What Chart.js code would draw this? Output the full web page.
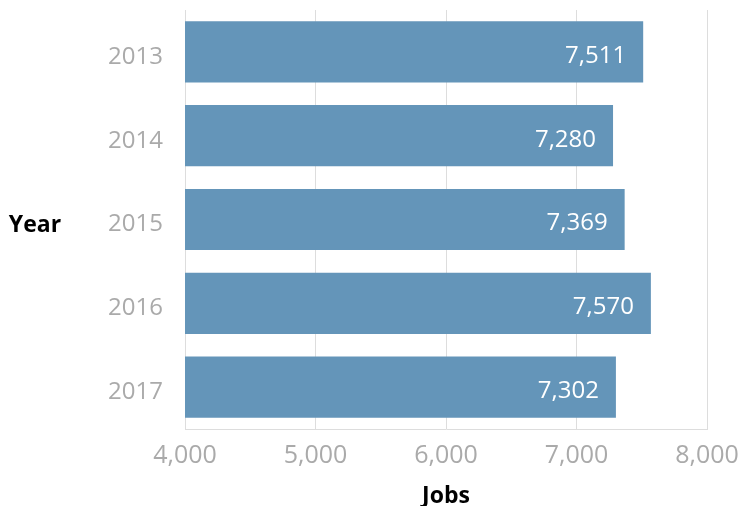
<!DOCTYPE html>
<html>
<head>
<meta charset="utf-8">
<script src="https://cdn.jsdelivr.net/npm/chart.js@4/dist/chart.umd.min.js"></script>
<style>
  html, body { margin: 0; padding: 0; background: #fff; }
  #wrap { width: 745px; height: 506px; }
</style>
</head>
<body>
<div id="wrap"><canvas id="jobsChart"></canvas></div>
<script>
// data
var years = ['2013', '2014', '2015', '2016', '2017'];
var jobs = [7511, 7280, 7369, 7570, 7302];
var xTicks = [4000, 5000, 6000, 7000, 8000];

function number_format(n) {
    return String(Math.round(n)).replace(/\B(?=(\d{3})+(?!\d))/g, ',');
}

// value labels inside the end of each bar + horizontal "Year" title
var barLabels = {
    id: 'barLabels',
    afterDatasetsDraw: function(chart) {
        var ctx = chart.ctx;
        var meta = chart.getDatasetMeta(0);
        ctx.save();
        ctx.font = '24px "Open Sans"';
        ctx.fillStyle = '#ffffff';
        ctx.textAlign = 'right';
        ctx.textBaseline = 'middle';
        meta.data.forEach(function(bar, i) {
            ctx.fillText(number_format(jobs[i]), bar.x - 17, bar.y + 4);
        });
        ctx.font = 'bold 23px "Open Sans"';
        ctx.fillStyle = '#000000';
        ctx.textAlign = 'center';
        var area = chart.chartArea;
        ctx.fillText('Year', 35, (area.top + area.bottom) / 2 + 6);
        ctx.restore();
    }
};

var ctx = document.getElementById('jobsChart').getContext('2d');
var jobsChart = new Chart(ctx, {
    type: 'bar',
    data: {
        labels: years,
        datasets: [{
            label: 'Jobs',
            data: jobs,
            backgroundColor: '#6495b9',
            borderWidth: 0,
            categoryPercentage: 1,
            barPercentage: 0.73
        }]
    },
    options: {
        indexAxis: 'y',
        responsive: true,
        maintainAspectRatio: false,
        animation: false,
        layout: {
            padding: { top: 10, right: 38, bottom: 0, left: 0 }
        },
        scales: {
            x: {
                min: 4000,
                max: 8000,
                afterBuildTicks: function(scale) {
                    scale.ticks = xTicks.map(function(v) { return { value: v }; });
                },
                afterFit: function(scale) {
                    scale.height = 77;
                    scale.paddingLeft = 0;
                    scale.paddingRight = 0;
                },
                grid: {
                    color: '#dddddd',
                    lineWidth: 1,
                    drawTicks: false
                },
                border: { display: true, color: '#dddddd' },
                ticks: {
                    padding: 12,
                    color: '#aaaaaa',
                    font: { family: '"Open Sans"', size: 25 },
                    maxRotation: 0,
                    callback: function(value) {
                        return number_format(value);
                    }
                },
                title: {
                    display: true,
                    text: 'Jobs',
                    color: '#000000',
                    font: { family: '"Open Sans"', size: 23, weight: 'bold' },
                    padding: { top: 0, bottom: -4 }
                }
            },
            y: {
                afterFit: function(scale) {
                    scale.width = 185;
                    scale.paddingTop = 0;
                    scale.paddingBottom = 0;
                },
                grid: { display: false, drawTicks: false },
                border: { display: true, color: '#dddddd' },
                ticks: {
                    padding: 22,
                    color: '#aaaaaa',
                    font: { family: '"Open Sans"', size: 24, lineHeight: '10px' },
                    // empty first line nudges the year label a little below the bar centre
                    callback: function(value) {
                        return ['', this.getLabelForValue(value)];
                    }
                }
            }
        },
        plugins: {
            legend: { display: false },
            tooltip: { enabled: false }
        }
    },
    plugins: [barLabels]
});
</script>
</body>
</html>
